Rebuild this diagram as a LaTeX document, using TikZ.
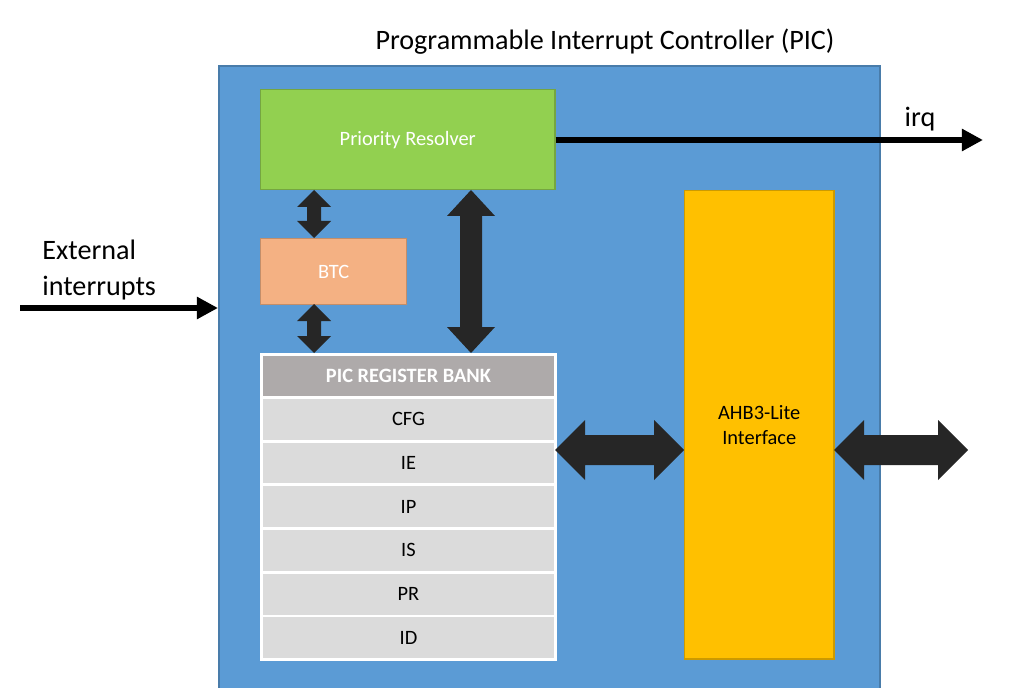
\documentclass[tikz,border=0pt]{standalone}
\usepackage{fontspec}
\setmainfont{Carlito}
\usetikzlibrary{arrows.meta}
\begin{document}
\begin{tikzpicture}[x=0.01cm,y=-0.01cm,
  lbl/.style={text=white,font=\fontsize{5.8pt}{7pt}\selectfont},
  row/.style={fill=gray!28,draw=white,line width=0.8pt},
  arr/.style={fill=black!85,draw=none},
  big/.style={font=\fontsize{8pt}{10pt}\selectfont}]
\definecolor{pblue}{HTML}{5B9BD5}\definecolor{pgreen}{HTML}{92D050}
\definecolor{porange}{HTML}{F4B183}\definecolor{pgold}{HTML}{FFC000}
\definecolor{pgray}{HTML}{AEAAAA}
\useasboundingbox (0,0) rectangle (1024,688);
\node[big,anchor=base] (title) at (605,50) {Programmable Interrupt Controller (PIC)};
\fill[pblue,draw=pblue!80!black] (219,66) rectangle (880,690);
\node[fill=pgreen,draw=pgreen!80!black,inner sep=0,anchor=north west,minimum width=2.94cm,minimum height=1cm,lbl] (pr) at (260,89) {Priority Resolver};
\node[fill=porange,draw=porange!80!black,inner sep=0,anchor=north west,minimum width=1.46cm,minimum height=0.66cm,lbl] (btc) at (260,238) {BTC};
\node[fill=pgray,draw=white,line width=0.8pt,inner sep=0,anchor=north west,minimum width=2.94cm,minimum height=0.43cm,lbl,font=\fontsize{5.8pt}{7pt}\selectfont\bfseries] (hdr) at (260,353) {PIC REGISTER BANK};
\foreach \t [count=\i from 0] in {CFG,IE,IP,IS,PR,ID}{
  \node[row,inner sep=0,anchor=north west,minimum width=2.94cm,minimum height=0.437cm,font=\fontsize{5.8pt}{7pt}\selectfont] (r\i) at (260,{396+43.7*\i}) {\t};}
\node[fill=pgold,draw=pgold!80!black,inner sep=0,anchor=north west,minimum width=1.49cm,minimum height=4.68cm,align=center,font=\fontsize{5.8pt}{7pt}\selectfont] (ahb) at (684,190) {AHB3-Lite\\Interface};
% irq
\coordinate (irqend) at (983,140);
\draw[line width=1.6pt,-{Triangle[length=6pt,width=6pt]}] (pr.east|-irqend) -- (irqend);
\node[big,anchor=base] (irq) at (920,127) {irq};
% external
\coordinate (extstart) at (20,308);
\draw[line width=1.6pt,-{Triangle[length=6pt,width=6pt]}] (extstart) -- (218,308);
\node[big,anchor=north west,align=left] (ext) at (30,228) {External\\interrupts};
% double arrows
\newcommand\myvarr[6]{\fill[arr] (#1,#2) -- (#1+#5,#2+#6) -- (#1+#4,#2+#6) -- (#1+#4,#3-#6) -- (#1+#5,#3-#6) -- (#1,#3) -- (#1-#5,#3-#6) -- (#1-#4,#3-#6) -- (#1-#4,#2+#6) -- (#1-#5,#2+#6) -- cycle;}
\newcommand\myharr[6]{\fill[arr] (#2,#1) -- (#2+#6,#1-#5) -- (#2+#6,#1-#4) -- (#3-#6,#1-#4) -- (#3-#6,#1-#5) -- (#3,#1) -- (#3-#6,#1+#5) -- (#3-#6,#1+#4) -- (#2+#6,#1+#4) -- (#2+#6,#1+#5) -- cycle;}
\myvarr{314}{190}{238}{7}{17}{17}
\myvarr{314}{304}{353}{7}{17}{17}
\myvarr{471}{190}{353}{11}{24}{26}
\myharr{450}{555}{684}{15}{30}{30}
\myharr{450}{834}{968}{15}{30}{30}
\end{tikzpicture}
\end{document}
